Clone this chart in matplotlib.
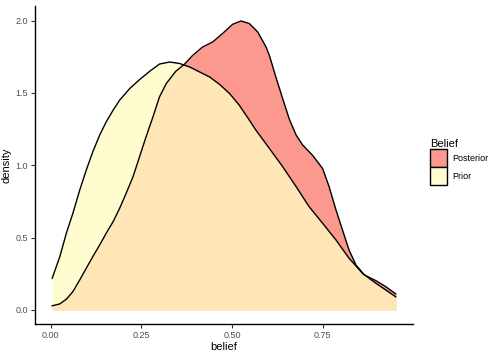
import matplotlib
matplotlib.use('Agg')
import matplotlib.pyplot as plt
from matplotlib.patches import Patch

plt.rcParams['font.family'] = ['Liberation Sans', 'DejaVu Sans']

# density curves
prior_x = [0.004, 0.025, 0.043, 0.061, 0.080, 0.098, 0.116, 0.135, 0.153, 0.172,
           0.190, 0.218, 0.245, 0.273, 0.300, 0.328, 0.355, 0.383, 0.410, 0.438,
           0.465, 0.493, 0.520, 0.548, 0.566, 0.603, 0.640, 0.677, 0.713, 0.750,
           0.787, 0.823, 0.860, 0.897, 0.924, 0.952]
prior_y = [0.219, 0.368, 0.530, 0.668, 0.829, 0.967, 1.093, 1.209, 1.300, 1.381,
           1.450, 1.531, 1.592, 1.650, 1.700, 1.714, 1.704, 1.680, 1.646, 1.611,
           1.561, 1.497, 1.416, 1.312, 1.243, 1.117, 0.990, 0.852, 0.713, 0.599,
           0.483, 0.357, 0.253, 0.184, 0.138, 0.090]

post_x = [0.004, 0.025, 0.043, 0.061, 0.080, 0.098, 0.116, 0.135, 0.153, 0.172,
          0.190, 0.208, 0.227, 0.245, 0.263, 0.282, 0.300, 0.319, 0.345, 0.369,
          0.392, 0.419, 0.447, 0.474, 0.502, 0.525, 0.548, 0.571, 0.594, 0.603,
          0.621, 0.640, 0.658, 0.677, 0.695, 0.722, 0.750, 0.768, 0.787, 0.805,
          0.823, 0.842, 0.865, 0.897, 0.924, 0.952]
post_y = [0.028, 0.041, 0.074, 0.126, 0.207, 0.288, 0.368, 0.449, 0.530, 0.610,
          0.702, 0.806, 0.921, 1.059, 1.197, 1.335, 1.473, 1.566, 1.650, 1.699,
          1.761, 1.818, 1.853, 1.911, 1.975, 1.998, 1.980, 1.922, 1.818, 1.761,
          1.611, 1.460, 1.320, 1.209, 1.140, 1.070, 0.978, 0.852, 0.691, 0.552,
          0.414, 0.311, 0.242, 0.202, 0.161, 0.110]

x_ticks = [0.0, 0.25, 0.5, 0.75]
x_labels = ['0.00', '0.25', '0.50', '0.75']
y_ticks = [0.0, 0.5, 1.0, 1.5, 2.0]
y_labels = ['0.0', '0.5', '1.0', '1.5', '2.0']

post_col = '#FA8072'
prior_col = '#FFFCC3'

fig = plt.figure(figsize=(4.98, 3.56), dpi=100)
ax = fig.add_axes([35/498, 1-324.3/356, (413-35)/498, (324.3-5.7)/356])

ax.fill_between(post_x, 0, post_y, color=post_col, alpha=0.8, linewidth=0)
ax.plot(post_x, post_y, color='black', lw=1.0, solid_joinstyle='round')
ax.fill_between(prior_x, 0, prior_y, color=prior_col, alpha=0.78, linewidth=0)
ax.plot(prior_x, prior_y, color='black', lw=1.0, solid_joinstyle='round')

ax.set_xlim(-0.0435, 0.9995)
ax.set_ylim(-0.0999, 2.1035)
ax.set_xticks(x_ticks)
ax.set_xticklabels(x_labels)
ax.set_yticks(y_ticks)
ax.set_yticklabels(y_labels)
for s in ['top', 'right']:
    ax.spines[s].set_visible(False)
for s in ['left', 'bottom']:
    ax.spines[s].set_linewidth(1.0)
    ax.spines[s].set_color('black')
ax.tick_params(axis='both', length=3, width=0.8, color='#333333',
               labelsize=6.5, labelcolor='#4D4D4D', pad=2)
ax.set_xlabel('belief', fontsize=8, labelpad=1)
ax.set_ylabel('density', fontsize=8, labelpad=3)

handles = [Patch(facecolor='#FB998E', edgecolor='black', lw=1.0, label='Posterior'),
           Patch(facecolor='#FFFDD2', edgecolor='black', lw=1.0, label='Prior')]
leg = fig.legend(handles=handles, title='Belief', loc='upper left',
                 bbox_to_anchor=(430/498, 1-139/356), frameon=False,
                 fontsize=6.5, title_fontsize=8, handlelength=1.85, handleheight=2.7,
                 labelspacing=0.0, handletextpad=0.6, borderpad=0, borderaxespad=0)
leg._legend_box.align = 'left'

fig.savefig('out.png', dpi=100)
